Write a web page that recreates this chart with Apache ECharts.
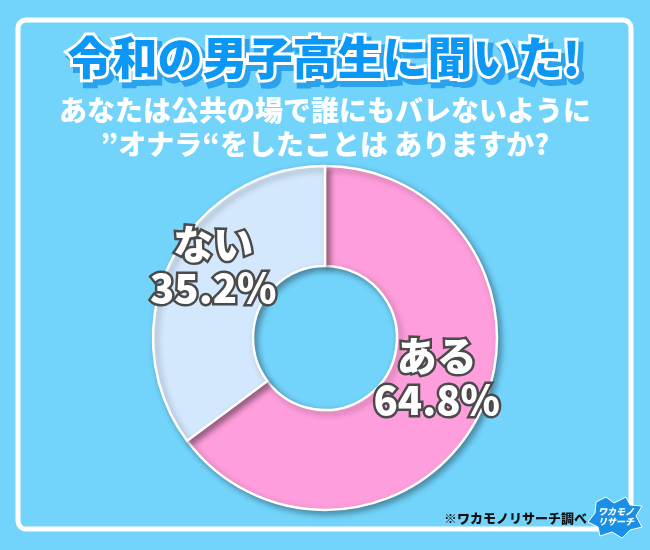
<!DOCTYPE html>
<html><head><meta charset="utf-8">
<script src="https://cdn.jsdelivr.net/npm/echarts@6/dist/echarts.min.js"></script>
<style>html,body{margin:0;padding:0;background:#72d4fb}#c{width:650px;height:550px}</style>
</head><body><div id="c"></div>
<script>
const categories = ['ある', 'ない'];
const values = [64.8, 35.2];
const colors = ['#ff9edc', '#d4e8fd'];
const titleText = '令和の男子高生に聞いた!';
const subtitleLines = ['あなたは公共の場で誰にもバレないように', '”オナラ“をしたことは ありますか?'];
const sourceText = '※ワカモノリサーチ調べ';

const FONT = '"Noto Sans CJK JP", "Noto Sans", sans-serif';
const chart = echarts.init(document.getElementById('c'), null, {renderer: 'canvas'});
chart.setOption({
  backgroundColor: '#72d4fb',
  animation: false,
  graphic: [
    {type: 'rect', shape: {x: 18, y: 20, width: 613, height: 509, r: 8}, style: {fill: 'none', stroke: '#ffffff', lineWidth: 5}},
    {type: 'text', x: 328, y: 63, style: {text: titleText, font: '900 45px ' + FONT, fill: '#2aa2ee', stroke: '#2aa2ee', lineWidth: 8, align: 'center', verticalAlign: 'middle'}},
    {type: 'text', x: 324, y: 58, style: {text: titleText, font: '900 45px ' + FONT, fill: '#0a97f5', stroke: '#ffffff', lineWidth: 6, align: 'center', verticalAlign: 'middle'}},
    {type: 'text', x: 325, y: 110, style: {text: subtitleLines[0], font: '900 28px ' + FONT, fill: '#ffffff', align: 'center', verticalAlign: 'middle'}},
    {type: 'text', x: 325, y: 144, style: {text: subtitleLines[1], font: '900 28px ' + FONT, fill: '#ffffff', align: 'center', verticalAlign: 'middle'}},
    {type: 'text', x: 587, y: 518, style: {text: sourceText, font: '900 13px ' + FONT, fill: '#111111', align: 'right', verticalAlign: 'middle'}},
    {type: 'polygon', shape: {points: [[596,502],[606,497],[614,503],[626,497],[630,505],[642,506],[636,516],[642,527],[630,530],[622,538],[612,532],[600,536],[598,527],[588,522],[595,513]]}, style: {fill: '#1a8fe6', stroke: '#ffffff', lineWidth: 1}},
    {type: 'text', x: 616, y: 517, style: {text: 'ワカモノ\nリサーチ', font: 'italic 900 9px ' + FONT, lineHeight: 10, fill: '#ffffff', align: 'center', verticalAlign: 'middle'}}
  ],
  series: [{
    type: 'pie',
    center: [325, 338],
    radius: [72, 172],
    startAngle: 90,
    clockwise: true,
    silent: true,
    data: categories.map((c, i) => ({name: c, value: values[i], itemStyle: {color: colors[i]}})),
    itemStyle: {borderColor: '#ffffff', borderWidth: 2.5, shadowBlur: 6, shadowOffsetX: 3, shadowOffsetY: 3, shadowColor: 'rgba(0,0,0,0.35)'},
    label: {
      show: true, position: 'inside', formatter: '{b}\n{c}%',
      fontFamily: FONT, fontWeight: 900, fontSize: 40, lineHeight: 44,
      color: '#ffffff', textBorderColor: '#4a4a4a', textBorderWidth: 5
    },
    labelLayout: function () { return {dy: -16}; },
    labelLine: {show: false}
  }]
});
</script></body></html>
